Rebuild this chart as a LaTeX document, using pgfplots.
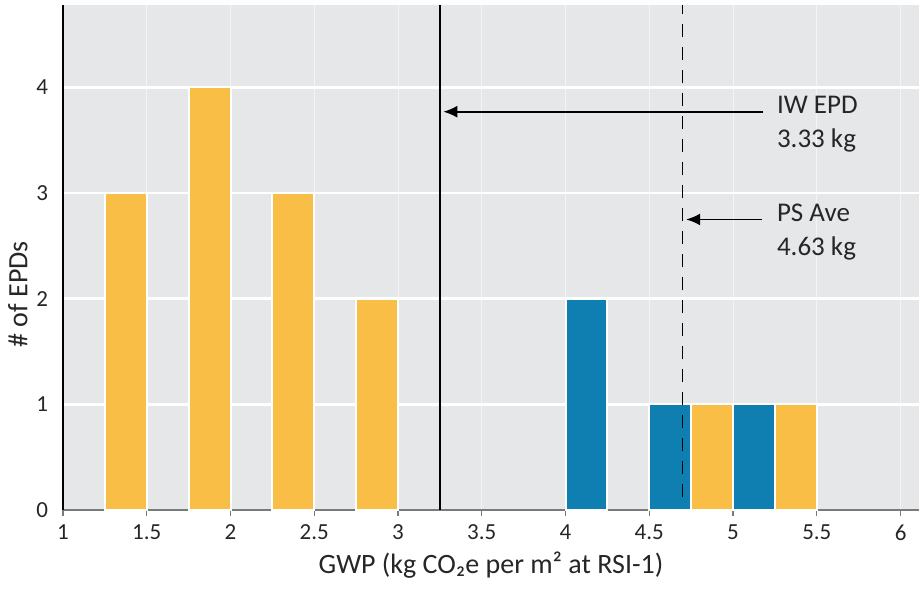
\documentclass[border=0pt]{standalone}
\usepackage{fontspec}
\setmainfont{Carlito}
\usepackage{pgfplots}
\pgfplotsset{compat=1.18}
\usetikzlibrary{arrows.meta}
\definecolor{bgc}{HTML}{E6E7E9}
\definecolor{orng}{HTML}{F8BE45}
\definecolor{blu}{HTML}{0F7EB1}
\definecolor{axgrey}{HTML}{7A7A7A}
\definecolor{txt}{HTML}{262626}
\begin{document}
\begin{tikzpicture}
\begin{axis}[
  scale only axis, width=428pt, height=252.5pt,
  xmin=1, xmax=6.11, ymin=0, ymax=4.78,
  axis background/.style={fill=bgc},
  axis lines*=left,
  axis line style={-},
  x axis line style={draw=axgrey, line width=1pt},
  y axis line style={draw=black, line width=0.8pt},
  xtick={1,1.5,2,2.5,3,3.5,4,4.5,5,5.5,6},
  xticklabels={1,1.5,2,2.5,3,3.5,4,4.5,5,5.5,6},
  ytick={0,1,2,3,4},
  tick align=outside,
  x tick style={draw=axgrey, line width=0.6pt},
  major tick length=3pt,
  y tick style={draw=none},
  grid=major,
  x grid style={white!55!bgc, line width=0.5pt},
  y grid style={white, line width=1.3pt},
  /pgf/number format/assume math mode=true,
  tick label style={font=\fontsize{11.5}{13}\selectfont, text=txt},
  yticklabel style={xshift=-1pt},
  xticklabel style={yshift=-1pt},
  xlabel={GWP (kg CO₂e per m² at RSI-1)},
  ylabel={\# of EPDs},
  label style={font=\fontsize{14}{16}\selectfont, text=txt},
  xlabel style={at={(axis description cs:0.5,0)}, anchor=center, yshift=-27.5pt},
  ylabel style={at={(axis description cs:0,0.427)}, anchor=center, yshift=22.5pt},
  ybar, bar width=0.25, bar shift=0pt,
]
\addplot[fill=orng, draw=white, line width=1pt] coordinates {
  (1.375,3) (1.875,4) (2.375,3) (2.875,2) (4.875,1) (5.375,1)
};
\addplot[fill=blu, draw=white, line width=1pt] coordinates {
  (4.125,2) (4.625,1) (5.125,1)
};
\addplot[sharp plot, black, line width=1pt] coordinates {(3.25,0) (3.25,4.78)};
\addplot[sharp plot, black, line width=0.6pt, dash pattern=on 6.5pt off 5pt] coordinates {(4.7,0.12) (4.7,4.78)};
\addplot[sharp plot, black, line width=0.9pt, -{Latex[length=7pt,width=6pt]}] coordinates {(5.18,3.77) (3.27,3.77)};
\addplot[sharp plot, black, line width=0.9pt, -{Latex[length=7pt,width=6pt]}] coordinates {(5.17,2.75) (4.72,2.75)};
\node[anchor=west, align=left, font=\fontsize{13.5}{17}\selectfont, text=txt, inner sep=0pt] at (axis cs:5.26,3.65) {IW EPD\\3.33 kg};
\node[anchor=west, align=left, font=\fontsize{13.5}{17}\selectfont, text=txt, inner sep=0pt] at (axis cs:5.26,2.63) {PS Ave\\4.63 kg};
\end{axis}
\pgfresetboundingbox
\path[use as bounding box] (-31.5pt,-39pt) rectangle (428pt,255pt);
\end{tikzpicture}
\end{document}
